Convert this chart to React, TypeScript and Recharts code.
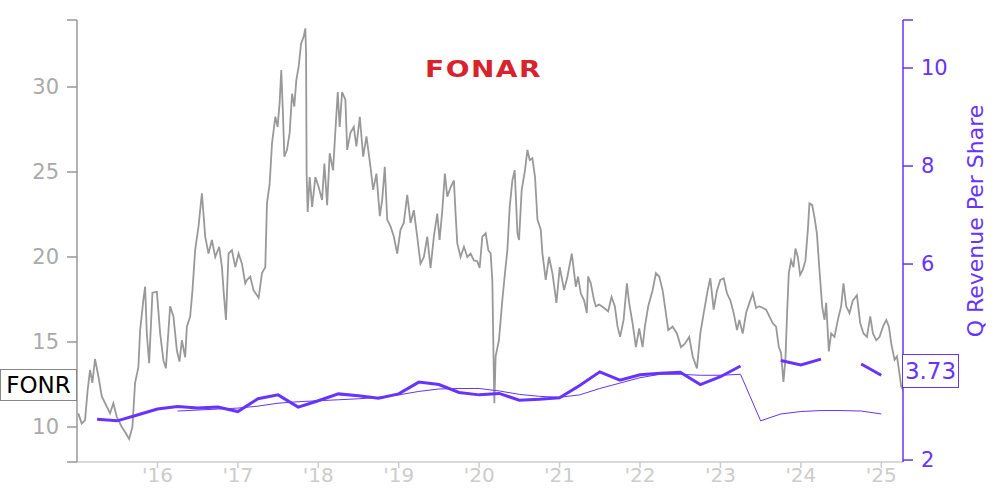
import { LineChart, Line, XAxis, YAxis, Label } from 'recharts'

// daily-ish closing price (decimal year, USD)
const priceDates = [
  2015.016, 2015.059, 2015.1, 2015.133, 2015.162, 2015.191, 2015.224, 2015.265, 2015.308, 2015.37,
  2015.411, 2015.452, 2015.494, 2015.557, 2015.598, 2015.648, 2015.689, 2015.722, 2015.763, 2015.785,
  2015.826, 2015.847, 2015.868, 2015.897, 2015.938, 2015.993, 2016.034, 2016.075, 2016.105, 2016.158,
  2016.199, 2016.242, 2016.274, 2016.304, 2016.345, 2016.366, 2016.407, 2016.436, 2016.469, 2016.511,
  2016.553, 2016.594, 2016.635, 2016.677, 2016.719, 2016.768, 2016.802, 2016.822, 2016.852, 2016.884,
  2016.926, 2016.968, 2017.009, 2017.051, 2017.092, 2017.113, 2017.154, 2017.195, 2017.258, 2017.3,
  2017.341, 2017.362, 2017.395, 2017.425, 2017.466, 2017.494, 2017.519, 2017.54, 2017.562, 2017.578,
  2017.611, 2017.644, 2017.674, 2017.702, 2017.727, 2017.756, 2017.786, 2017.818, 2017.839, 2017.848,
  2017.855, 2017.868, 2017.893, 2017.923, 2017.964, 2018.005, 2018.047, 2018.076, 2018.11, 2018.142,
  2018.184, 2018.213, 2018.242, 2018.266, 2018.296, 2018.337, 2018.359, 2018.4, 2018.441, 2018.474,
  2018.516, 2018.558, 2018.599, 2018.649, 2018.682, 2018.723, 2018.765, 2018.794, 2018.827, 2018.857,
  2018.898, 2018.939, 2018.981, 2019.022, 2019.063, 2019.106, 2019.147, 2019.188, 2019.23, 2019.271,
  2019.313, 2019.355, 2019.396, 2019.437, 2019.479, 2019.508, 2019.542, 2019.574, 2019.604, 2019.645,
  2019.686, 2019.707, 2019.728, 2019.769, 2019.811, 2019.853, 2019.894, 2019.935, 2019.977, 2020.006,
  2020.04, 2020.081, 2020.114, 2020.143, 2020.164, 2020.177, 2020.189, 2020.205, 2020.246, 2020.289,
  2020.321, 2020.351, 2020.38, 2020.413, 2020.442, 2020.476, 2020.496, 2020.529, 2020.57, 2020.6,
  2020.629, 2020.662, 2020.695, 2020.725, 2020.766, 2020.787, 2020.828, 2020.869, 2020.911, 2020.961,
  2021.002, 2021.056, 2021.098, 2021.152, 2021.202, 2021.23, 2021.264, 2021.305, 2021.339, 2021.355,
  2021.388, 2021.429, 2021.451, 2021.492, 2021.554, 2021.604, 2021.646, 2021.687, 2021.721, 2021.753,
  2021.796, 2021.837, 2021.865, 2021.908, 2021.949, 2021.99, 2022.032, 2022.061, 2022.102, 2022.157,
  2022.198, 2022.239, 2022.281, 2022.322, 2022.351, 2022.406, 2022.459, 2022.509, 2022.559, 2022.612,
  2022.655, 2022.708, 2022.75, 2022.792, 2022.842, 2022.874, 2022.916, 2022.958, 2022.999, 2023.041,
  2023.082, 2023.123, 2023.165, 2023.206, 2023.235, 2023.277, 2023.319, 2023.36, 2023.402, 2023.443,
  2023.484, 2023.527, 2023.568, 2023.609, 2023.651, 2023.692, 2023.726, 2023.754, 2023.783, 2023.808,
  2023.829, 2023.85, 2023.879, 2023.908, 2023.933, 2023.962, 2023.991, 2024.025, 2024.057, 2024.087,
  2024.107, 2024.141, 2024.169, 2024.199, 2024.231, 2024.265, 2024.294, 2024.315, 2024.348, 2024.377,
  2024.418, 2024.46, 2024.501, 2024.53, 2024.564, 2024.605, 2024.647, 2024.697, 2024.738, 2024.779,
  2024.822, 2024.863, 2024.896, 2024.938, 2024.979, 2025.021, 2025.062, 2025.095, 2025.124, 2025.165,
  2025.195, 2025.22, 2025.249, 2025.27,
]
const priceVals = [
  10.8, 10.2, 10.4, 12.2, 13.35, 12.6, 14.0, 13.0, 11.8, 11.2,
  10.8, 11.4, 10.6, 10.0, 9.7, 9.3, 10.0, 12.6, 13.5, 15.7,
  17.5, 18.25, 15.5, 13.75, 17.9, 17.95, 15.5, 13.9, 13.45, 17.1,
  16.5, 14.5, 13.85, 15.1, 14.1, 15.9, 16.5, 18.05, 20.4, 21.8,
  23.75, 21.2, 20.2, 21.0, 20.0, 20.6, 19.4, 18.05, 16.3, 20.2,
  20.4, 19.4, 20.2, 19.6, 18.45, 18.65, 18.85, 18.05, 17.6, 19.05,
  19.4, 23.15, 24.3, 26.7, 28.25, 27.65, 29.05, 31.0, 28.25, 25.9,
  26.3, 27.3, 29.6, 28.85, 30.4, 31.2, 32.55, 32.95, 33.45, 32.0,
  24.9, 22.65, 24.7, 22.95, 24.7, 24.1, 23.35, 25.5, 23.05, 26.1,
  25.1, 27.45, 29.7, 27.65, 29.7, 29.25, 26.3, 27.3, 27.65, 26.5,
  28.25, 25.9, 27.1, 25.3, 23.95, 24.9, 22.4, 23.35, 25.3, 22.2,
  21.8, 21.2, 20.2, 21.6, 22.0, 23.65, 22.0, 22.75, 21.2, 19.6,
  20.0, 21.2, 19.35, 21.2, 22.55, 21.0, 22.75, 24.9, 23.55, 24.1,
  24.5, 22.55, 20.8, 20.0, 20.6, 20.0, 20.2, 19.8, 19.75, 19.35,
  21.2, 21.4, 20.4, 20.2, 18.65, 14.7, 11.4, 14.15, 15.1, 17.5,
  19.05, 20.4, 22.95, 24.5, 25.1, 21.4, 21.0, 23.95, 25.1, 26.3,
  25.7, 25.8, 24.7, 22.2, 21.6, 20.2, 18.65, 20.0, 19.05, 17.3,
  19.4, 18.05, 18.85, 20.2, 18.25, 18.85, 17.85, 17.45, 16.7, 18.85,
  18.45, 17.45, 17.1, 17.2, 17.0, 16.8, 17.65, 17.1, 15.9, 15.3,
  16.3, 18.45, 17.3, 16.1, 14.7, 15.8, 14.7, 15.9, 17.1, 18.05,
  19.05, 18.85, 18.05, 16.7, 15.7, 15.9, 15.5, 14.7, 14.9, 15.3,
  14.15, 13.45, 15.5, 16.7, 18.05, 18.75, 16.9, 18.05, 18.65, 18.75,
  17.85, 17.45, 16.7, 15.7, 16.3, 15.5, 16.7, 17.3, 17.85, 17.0,
  17.1, 17.0, 16.9, 16.5, 16.1, 15.9, 14.7, 14.35, 12.65, 13.95,
  16.7, 19.05, 19.8, 19.4, 20.5, 20.0, 18.95, 19.25, 19.8, 21.6,
  23.15, 23.05, 22.35, 21.4, 19.25, 17.1, 16.3, 17.3, 14.45, 15.5,
  15.3, 16.3, 17.1, 18.45, 17.1, 16.7, 17.45, 17.75, 16.1, 15.5,
  15.3, 16.5, 15.5, 15.1, 15.3, 15.9, 16.3, 15.9, 14.9, 13.95,
  14.15, 13.35, 12.35, 12.2,
]

// quarterly revenue per share (null = no report)
const revDates = [
  2015.25, 2015.5, 2015.75, 2016.0, 2016.25, 2016.5, 2016.75, 2017.0, 2017.25, 2017.5,
  2017.75, 2018.0, 2018.25, 2018.5, 2018.75, 2019.0, 2019.25, 2019.5, 2019.75, 2020.0,
  2020.25, 2020.5, 2020.75, 2021.0, 2021.25, 2021.5, 2021.75, 2022.0, 2022.25, 2022.5,
  2022.75, 2023.0, 2023.25, 2023.5, 2023.75, 2024.0, 2024.25, 2024.5, 2024.75, 2025.0,
]
const revQ = [
  2.83, 2.8, 2.92, 3.04, 3.09, 3.06, 3.08, 2.99, 3.25, 3.33,
  3.08, 3.21, 3.35, 3.31, 3.26, 3.35, 3.59, 3.54, 3.38, 3.33,
  3.36, 3.22, 3.24, 3.27, 3.52, 3.8, 3.63, 3.74, 3.77, 3.79,
  3.54, 3.7, 3.92, null, 4.03, 3.94, 4.06, null, 3.96, 3.73,
]

// smoothed revenue per share (thin line)
const avgDates = revDates.slice(4)
const revAvg = [
  3.0, 3.02, 3.04, 3.06, 3.1, 3.16, 3.19, 3.21, 3.23, 3.25,
  3.28, 3.33, 3.4, 3.45, 3.46, 3.46, 3.41, 3.34, 3.3, 3.28,
  3.33, 3.46, 3.57, 3.68, 3.75, 3.75, 3.73, 3.73, 3.75, 2.8,
  2.94, 2.99, 3.01, 3.01, 3.0, 2.94,
]

const yearTicks = [2016, 2017, 2018, 2019, 2020, 2021, 2022, 2023, 2024, 2025]
const priceTicks = [7.94, 10, 15, 20, 25, 30, 33.94]
const revTicks = [2, 4, 6, 8, 10, 10.98]
const revLabels = [2, 6, 8, 10] // 4 sits under the last-value box

const priceData = priceDates.map((t, i) => ({ t, price: priceVals[i] }))
const revData = revDates.map((t, i) => ({ t, rev: revQ[i] }))
const avgData = avgDates.map((t, i) => ({ t, avg: revAvg[i] }))

const PURPLE = '#6633ff'
const FONT = 'DejaVu Sans'

export default function App() {
  return (
    <div style={{ position: 'absolute', left: 0, top: 0, width: 1000, height: 500, fontFamily: FONT, background: '#fff' }}>
      <LineChart width={1000} height={500} margin={{ top: 20, right: 0, bottom: 0, left: 0 }}>
        <XAxis
          dataKey="t"
          type="number"
          domain={[2015, 2025.27]}
          ticks={yearTicks}
          allowDataOverflow
          tickFormatter={(v: number) => "'" + String(v).slice(2)}
          height={38}
          tick={{ fontSize: 20, fill: '#cccccc', fontFamily: FONT }}
          stroke="#cccccc"
          strokeWidth={1.5}
          tickSize={6}
          tickMargin={0}
        />
        <YAxis
          yAxisId="price"
          domain={[7.94, 33.94]}
          ticks={priceTicks}
          allowDataOverflow
          width={77}
          tickFormatter={(v: number) => (Number.isInteger(v) ? String(v) : '')}
          tick={{ fontSize: 21, fill: '#aaaaaa', fontFamily: FONT }}
          stroke="#999999"
          strokeWidth={1.5}
          tickSize={10}
          tickMargin={8}
        />
        <YAxis
          yAxisId="rev"
          orientation="right"
          domain={[1.96, 10.98]}
          ticks={revTicks}
          allowDataOverflow
          width={97}
          tickFormatter={(v: number) => (revLabels.includes(v) ? String(v) : '')}
          tick={{ fontSize: 21, fill: PURPLE, fontFamily: FONT }}
          stroke={PURPLE}
          strokeWidth={1.5}
          tickSize={10}
          tickMargin={8}
        >
          <Label
            content={() => (
              <text
                transform="translate(983,221) rotate(-90)"
                textAnchor="middle"
                fill={PURPLE}
                fontSize={22}
                fontFamily={FONT}
              >
                Q Revenue Per Share
              </text>
            )}
          />
        </YAxis>
        <Line
          yAxisId="price"
          data={priceData}
          dataKey="price"
          stroke="#999999"
          strokeWidth={1.8}
          dot={false}
          isAnimationActive={false}
        />
        <Line
          yAxisId="rev"
          data={avgData}
          dataKey="avg"
          stroke={PURPLE}
          strokeWidth={1}
          dot={false}
          isAnimationActive={false}
        />
        <Line
          yAxisId="rev"
          data={revData}
          dataKey="rev"
          stroke={PURPLE}
          strokeWidth={3}
          dot={false}
          connectNulls={false}
          isAnimationActive={false}
        />
      </LineChart>

      <div
        style={{
          position: 'absolute', left: 425, top: 55, color: '#d8232c', fontWeight: 'bold',
          fontSize: 28, letterSpacing: 1.5, fontFamily: FONT, lineHeight: '28px', transform: 'scaleY(0.85)',
        }}
      >
        FONAR
      </div>
      <div
        style={{
          position: 'absolute', left: 0, top: 369, width: 75, height: 30, border: '1px solid #888',
          background: '#fff', color: '#000', fontSize: 23, lineHeight: '30px', textAlign: 'center',
        }}
      >
        FONR
      </div>
      <div
        style={{
          position: 'absolute', left: 902, top: 354, width: 55, height: 32, border: `1px solid ${PURPLE}`,
          background: '#fff', color: PURPLE, fontSize: 23, lineHeight: '32px', textAlign: 'center',
        }}
      >
        3.73
      </div>
    </div>
  )
}
